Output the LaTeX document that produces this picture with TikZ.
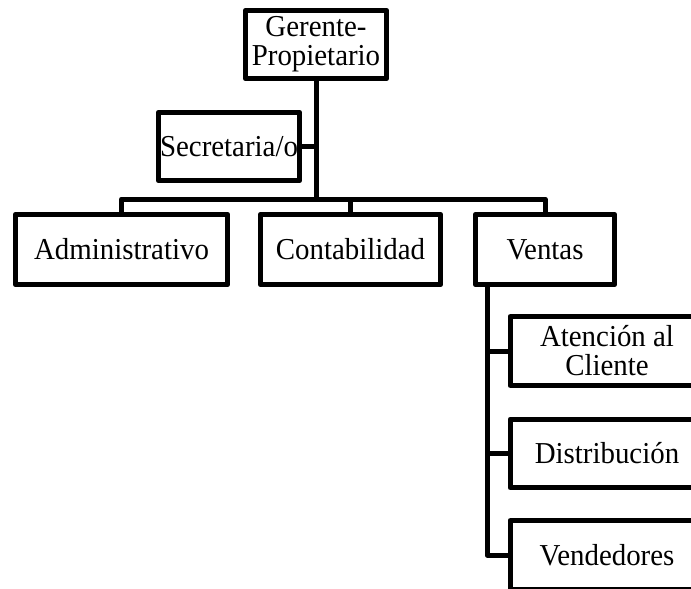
\documentclass[tikz,border=0pt]{standalone}
\usepackage{fontspec}
\setmainfont{Liberation Serif}[FakeStretch=0.95]
\begin{document}
\begin{tikzpicture}[x=0.5pt,y=-0.5pt,line width=2.5pt,line join=round,
  caja/.style={draw,inner sep=0pt,align=center,minimum height=34.25pt,
    font=\fontsize{15.2}{14.5}\selectfont}]
  \useasboundingbox (0,0) rectangle (691,589);
  \clip (0,0) rectangle (691,589);
  % Gerente y secretaria
  \node[caja,minimum width=70.75pt] (ger) at (316,44.5) {Gerente-\\Propietario};
  \node[caja,minimum width=70.75pt] (sec) at (229,146.5) {Secretaria/o};
  % Departamentos
  \node[caja,minimum width=106.25pt,minimum height=35.25pt] (adm) at (121.5,249.5) {Administrativo};
  \node[caja,minimum width=90.25pt,minimum height=35.25pt] (con) at (350.5,249.5) {Contabilidad};
  \node[caja,minimum width=69.75pt,minimum height=35.25pt] (ven) at (545,249.5) {Ventas};
  % Secciones de ventas
  \node[caja,minimum width=97pt] (ate) at (607,351) {Atenci\'on al\\Cliente};
  \node[caja,minimum width=97pt] (dis) at (607,453.5) {Distribuci\'on};
  \node[caja,minimum width=97pt] (vnd) at (607,555) {Vendedores};
  % Conectores
  \coordinate (cruce) at (316,199);
  \coordinate (tronco) at ([xshift=-29pt]ven.south);
  \draw (ger.south) -- (cruce);
  \draw (sec.east) -- (sec.east -| cruce);
  \foreach \n in {adm,con,ven}{
    \draw (\n.north) |- (cruce);
  }
  \foreach \n in {ate,dis,vnd}{
    \draw (tronco) |- (\n.west);
  }
\end{tikzpicture}
\end{document}
